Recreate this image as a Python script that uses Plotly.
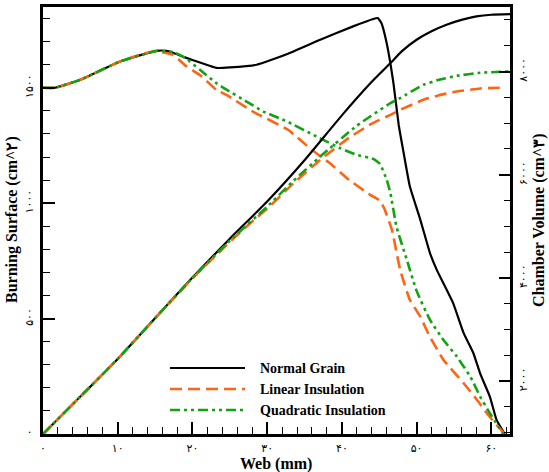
import plotly.graph_objects as go

# ---------------- data ----------------
# Burning surface (cm^2) vs web (mm)
normal_surf_x = [0, 1.6, 5, 10.3, 15.2, 16.5, 17.4, 18.8, 21.4, 23.2, 25, 28.6, 32.6, 37.1, 41.5,
                 44.2, 44.8, 45.3, 46.0, 46.9, 47.6, 48.2, 49.1, 50.5, 51.8, 52.7, 54.9, 56.3,
                 57.6, 58.5, 59.8, 60.7, 61.8]
normal_surf_y = [1500, 1500, 1535, 1614, 1660, 1660, 1652, 1634, 1605, 1586, 1588, 1600, 1645, 1708, 1766,
                 1798, 1802, 1780, 1693, 1520, 1340, 1230, 1072, 928, 783, 711, 566, 437,
                 350, 263, 162, 61, 0]

linear_surf_x = [0, 1.6, 5, 10.3, 13.5, 15.2, 17.4, 19.2, 21.2, 23.2, 24.5, 28.2, 32.8, 36.0, 38.4,
                 41.0, 43.8, 45.1, 45.7, 46.7, 47.8, 49.1, 50.5, 51.8, 53.6, 56.3, 58.1, 59.4, 60.3, 61.8]
linear_surf_y = [1500, 1500, 1535, 1614, 1648, 1658, 1643, 1593, 1550, 1491, 1470, 1395, 1318, 1230, 1173,
                 1100, 1036, 1010, 975, 884, 711, 581, 508, 420, 321, 220, 147, 90, 55, 0]

quad_surf_x = [0, 1.6, 5, 10.3, 15.2, 17.4, 19.0, 21.0, 23.2, 24.6, 27.0, 29.5, 32.6, 36.6, 39.8,
               42.0, 44.2, 45.1, 46.0, 46.5, 47.3, 48.7, 50.0, 51.8, 53.6, 55.4, 57.2, 58.5, 59.8, 61.6]
quad_surf_y = [1500, 1500, 1535, 1614, 1660, 1655, 1630, 1578, 1520, 1491, 1445, 1397, 1355, 1289, 1238,
               1209, 1192, 1170, 1101, 1043, 899, 754, 620, 494, 407, 335, 248, 162, 90, 0]

# Chamber volume (cm^3) vs web (mm)
normal_vol_x = [0, 5, 10, 15, 20, 25, 30, 35, 40, 44, 46.5, 48, 50, 52, 54, 56, 58, 60, 62.5]
normal_vol_y = [975, 1700, 2430, 3220, 4010, 4760, 5480, 6280, 7150, 7800, 8163, 8390, 8615, 8780, 8906,
                9000, 9067, 9100, 9110]

linear_vol_x = [0, 5, 10, 15, 20, 25, 28.2, 30, 33.5, 37.1, 41, 44, 46.5, 47.8, 50.9, 53, 55.4, 58.5, 61.8]
linear_vol_y = [975, 1700, 2430, 3220, 3990, 4700, 5123, 5340, 5830, 6287, 6720, 6990, 7160, 7257, 7451,
                7540, 7612, 7670, 7690]

quad_vol_x = [0, 5, 10, 15, 20, 25, 30, 33.5, 37.1, 42, 46.5, 47.8, 50.9, 53, 55.4, 58.5, 62.3]
quad_vol_y = [975, 1700, 2430, 3220, 4000, 4720, 5380, 5880, 6351, 6950, 7387, 7484, 7742, 7840, 7917,
              7975, 8000]

series_names = ["Normal Grain", "Linear Insulation", "Quadratic Insulation"]

x_tick_vals = [0, 10, 20, 30, 40, 50, 60]
x_tick_text = ["۰", "۱۰", "۲۰", "۳۰", "۴۰", "۵۰", "۶۰"]
y_tick_vals = [0, 500, 1000, 1500]
y_tick_text = ["۰", "۵۰۰", "۱۰۰۰", "۱۵۰۰"]
y2_tick_vals = [2000, 4000, 6000, 8000]
y2_tick_text = ["۲۰۰۰", "۴۰۰۰", "۶۰۰۰", "۸۰۰۰"]

# ---------------- styles ----------------
BLACK = "#000000"
ORANGE = "#ff6414"
GREEN = "#12a312"
styles = [
    dict(color=BLACK, width=2.2, dash="solid"),
    dict(color=ORANGE, width=2.6, dash="12px,6px"),
    dict(color=GREEN, width=2.6, dash="10px,4px,3px,4px,3px,4px"),
]

fig = go.Figure()
surfs = [(normal_surf_x, normal_surf_y), (linear_surf_x, linear_surf_y), (quad_surf_x, quad_surf_y)]
vols = [(normal_vol_x, normal_vol_y), (linear_vol_x, linear_vol_y), (quad_vol_x, quad_vol_y)]
for i in range(3):
    fig.add_trace(go.Scatter(x=surfs[i][0], y=surfs[i][1], mode="lines", name=series_names[i],
                             line=dict(**styles[i], shape="spline", smoothing=0.4),
                             showlegend=False, yaxis="y"))
for i in range(3):
    fig.add_trace(go.Scatter(x=vols[i][0], y=vols[i][1], mode="lines", name=series_names[i],
                             line=dict(**styles[i], shape="spline", smoothing=0.4),
                             showlegend=False, yaxis="y2"))

W, H = 549, 472
# plot frame in page pixels
FL, FR, FT, FB = 43, 510, 7, 434
L, R, T, B = FL, W - FR, FT, H - FB
pw, ph = FR - FL, FB - FT

def px(xp):
    return (xp - FL) / pw

def py(yp):
    return (FB - yp) / ph

TICKFONT = dict(family="DejaVu Sans", size=11, color="black")
TITLEFONT = dict(family="Liberation Serif", size=16, color="black")

fig.update_layout(
    width=W, height=H,
    margin=dict(l=L, r=R, t=T, b=B, autoexpand=False),
    paper_bgcolor="white", plot_bgcolor="white",
    showlegend=False,
    xaxis=dict(
        range=[0, 62.5], showgrid=False, zeroline=False, automargin=False,
        showline=True, linecolor="black", linewidth=2.5, mirror=True,
        tickmode="array", tickvals=x_tick_vals, ticktext=x_tick_text,
        ticks="inside", ticklen=12, tickwidth=2, tickcolor="black",
        minor=dict(ticks="inside", ticklen=7, tickwidth=1.2, tickcolor="black",
                   tickmode="linear", tick0=0, dtick=2),
        tickfont=TICKFONT, ticklabelstandoff=2,
    ),
    yaxis=dict(
        range=[0, 1850], showgrid=False, zeroline=False, automargin=False,
        showline=True, linecolor="black", linewidth=2.5,
        tickmode="array", tickvals=y_tick_vals, ticktext=y_tick_text,
        ticks="inside", ticklen=12, tickwidth=2, tickcolor="black",
        minor=dict(ticks="inside", ticklen=7, tickwidth=1.2, tickcolor="black",
                   tickmode="linear", tick0=0, dtick=100),
        tickfont=TICKFONT, tickangle=-90, ticklabelstandoff=3,
    ),
    yaxis2=dict(
        range=[975, 9250], overlaying="y", side="right", automargin=False,
        showgrid=False, zeroline=False,
        showline=True, linecolor="black", linewidth=2.5,
        tickmode="array", tickvals=y2_tick_vals, ticktext=y2_tick_text,
        ticks="inside", ticklen=11, tickwidth=2, tickcolor="black",
        minor=dict(ticks="inside", ticklen=6, tickwidth=1.2, tickcolor="black",
                   tickmode="linear", tick0=0, dtick=500),
        tickfont=TICKFONT, tickangle=-90, ticklabelstandoff=1,
    ),
)

# ---------------- axis titles and manual legend ----------------
annotations = [
    dict(xref="paper", yref="paper", x=px(276), y=py(464), xanchor="center", yanchor="middle",
         showarrow=False, text="<b>Web (mm)</b>", font=TITLEFONT),
    dict(xref="paper", yref="paper", x=px(12), y=py(220), xanchor="center", yanchor="middle",
         showarrow=False, textangle=-90, text="<b>Burning Surface (cm^۲)</b>", font=TITLEFONT),
    dict(xref="paper", yref="paper", x=px(539), y=py(220), xanchor="center", yanchor="middle",
         showarrow=False, textangle=-90, text="<b>Chamber Volume (cm^۳)</b>", font=TITLEFONT),
]
legend_rows = [368, 389, 410]
shapes = []
for i in range(3):
    shapes.append(dict(type="line", xref="paper", yref="paper",
                       x0=px(170), x1=px(245), y0=py(legend_rows[i]), y1=py(legend_rows[i]),
                       line=styles[i]))
    annotations.append(dict(xref="paper", yref="paper", x=px(258), y=py(legend_rows[i]),
                            xanchor="left", yanchor="middle", showarrow=False,
                            text="<b>" + series_names[i] + "</b>",
                            font=dict(family="Liberation Serif", size=14, color="black")))
fig.update_layout(shapes=shapes, annotations=annotations)

# remove the default 8px page margin so the figure fills the window exactly
fig.write_html("out.html", config={"displayModeBar": False},
               post_script="document.body.style.margin='0';")
